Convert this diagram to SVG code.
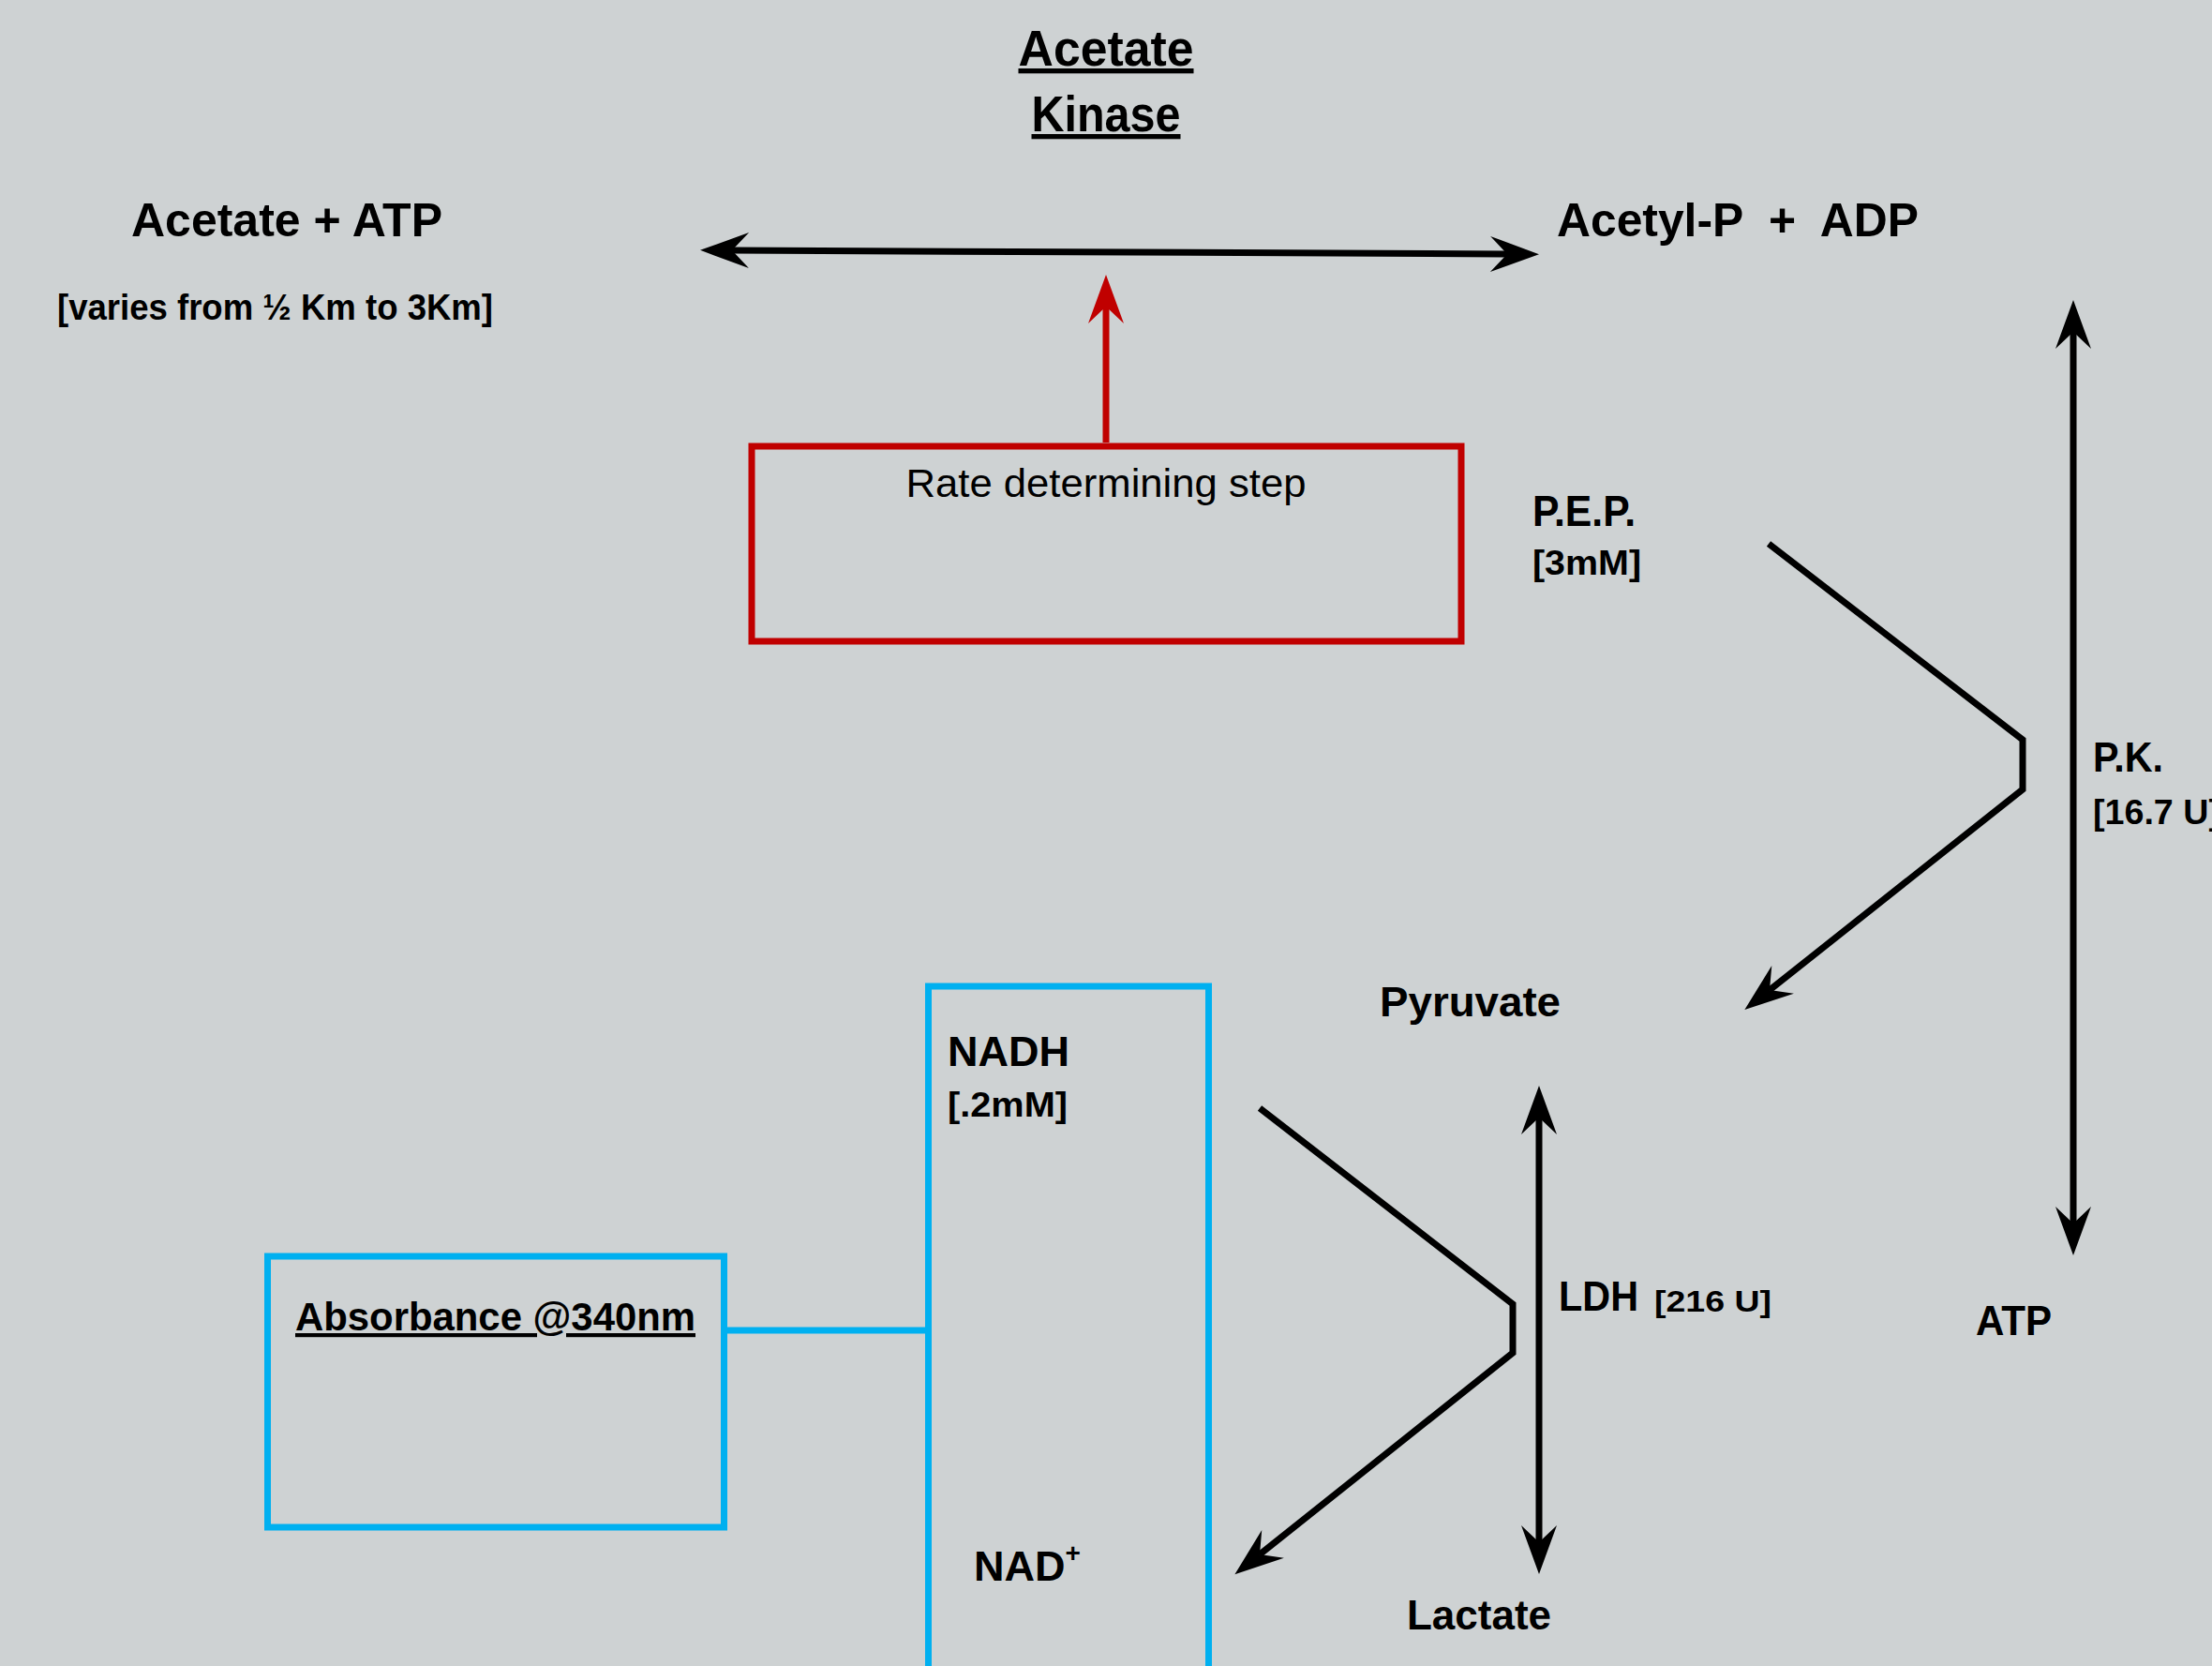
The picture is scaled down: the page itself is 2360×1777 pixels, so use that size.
<svg xmlns="http://www.w3.org/2000/svg" width="2360" height="1777" viewBox="0 0 2360 1777">
<style>
text{font-family:"Liberation Sans",Arial,sans-serif;fill:#000;}
.b{font-weight:bold;}
.u{text-decoration:underline;text-decoration-skip-ink:none;}
.ln{fill:none;stroke:#000;stroke-width:7;}
.red{fill:none;stroke:#C00000;stroke-width:7;}
.blue{fill:none;stroke:#00B0F0;stroke-width:7;}
</style>
<defs>
<marker id="ah" viewBox="-20 -20 56 40" markerWidth="56" markerHeight="40" refX="0" refY="0" orient="auto-start-reverse" markerUnits="userSpaceOnUse"><path d="M34,0 L-18,-19 L0,0 L-18,19 Z" fill="#000"/></marker>
<marker id="ahr" viewBox="-20 -20 56 40" markerWidth="56" markerHeight="40" refX="0" refY="0" orient="auto" markerUnits="userSpaceOnUse"><path d="M34,0 L-18,-19 L0,0 L-18,19 Z" fill="#C00000"/></marker>
</defs>
<rect x="0" y="0" width="2360" height="1777" fill="#CED2D3"/>

<g id="connectors">
<path class="ln" d="M781,267 L1608,271" marker-start="url(#ah)" marker-end="url(#ah)"/>
<path class="red" d="M1180,472 L1180,327" marker-end="url(#ahr)"/>
<path class="ln" d="M2212,354 L2212,1305" marker-start="url(#ah)" marker-end="url(#ah)"/>
<path class="ln" d="M1642,1192 L1642,1645" marker-start="url(#ah)" marker-end="url(#ah)"/>
<path class="ln" d="M1887,580 L2158,789 L2158,842 L1888,1056" marker-end="url(#ah)"/>
<path class="ln" d="M1344,1182 L1614,1391 L1614,1443 L1344,1658" marker-end="url(#ah)"/>
<path class="blue" d="M772,1419 L990,1419"/>
</g>

<g id="title">
<text class="b u" x="1180" y="70" font-size="53" text-anchor="middle" textLength="187" lengthAdjust="spacingAndGlyphs">Acetate</text>
<text class="b u" x="1180" y="140" font-size="53" text-anchor="middle" textLength="159" lengthAdjust="spacingAndGlyphs">Kinase</text>
</g>

<g id="acetate-atp">
<text class="b" x="140" y="252" font-size="50" textLength="332" lengthAdjust="spacingAndGlyphs">Acetate + ATP</text>
<text class="b" x="61" y="341" font-size="38" textLength="465" lengthAdjust="spacingAndGlyphs">[varies from ½ Km to 3Km]</text>
</g>

<g id="acetylp-adp">
<text class="b" x="1661" y="252" font-size="50" xml:space="preserve" textLength="386" lengthAdjust="spacingAndGlyphs">Acetyl-P  +  ADP</text>
</g>

<g id="rate-step">
<rect class="red" x="802" y="476" width="757" height="208"/>
<text x="1180" y="530" font-size="42" text-anchor="middle" textLength="427" lengthAdjust="spacingAndGlyphs">Rate determining step</text>
</g>

<g id="pep">
<text class="b" x="1635" y="561" font-size="46" textLength="110" lengthAdjust="spacingAndGlyphs">P.E.P.</text>
<text class="b" x="1635" y="613" font-size="36" textLength="116" lengthAdjust="spacingAndGlyphs">[3mM]</text>
</g>

<g id="pk">
<text class="b" x="2233" y="823" font-size="44" textLength="75" lengthAdjust="spacingAndGlyphs">P.K.</text>
<text class="b" x="2233" y="879" font-size="37" textLength="136" lengthAdjust="spacingAndGlyphs">[16.7 U]</text>
</g>

<g id="pyruvate">
<text class="b" x="1472" y="1084" font-size="45" textLength="193" lengthAdjust="spacingAndGlyphs">Pyruvate</text>
</g>

<g id="ldh">
<text class="b" x="1663" y="1398" font-size="44" textLength="85" lengthAdjust="spacingAndGlyphs">LDH</text>
<text class="b" x="1765" y="1399" font-size="32" textLength="125" lengthAdjust="spacingAndGlyphs">[216 U]</text>
</g>

<g id="atp">
<text class="b" x="2108" y="1424" font-size="44" textLength="81" lengthAdjust="spacingAndGlyphs">ATP</text>
</g>

<g id="lactate">
<text class="b" x="1501" y="1738" font-size="45" textLength="154" lengthAdjust="spacingAndGlyphs">Lactate</text>
</g>

<g id="nadh-box">
<rect class="blue" x="990.5" y="1052" width="299" height="760"/>
<text class="b" x="1011" y="1137" font-size="45" textLength="130" lengthAdjust="spacingAndGlyphs">NADH</text>
<text class="b" x="1011" y="1191" font-size="36" textLength="128" lengthAdjust="spacingAndGlyphs">[.2mM]</text>
<text class="b" x="1039" y="1686" font-size="45">NAD<tspan font-size="28" dy="-20">+</tspan></text>
</g>

<g id="absorbance">
<rect class="blue" x="285.5" y="1340" width="487" height="289"/>
<text class="b u" x="315" y="1419" font-size="42" textLength="427" lengthAdjust="spacingAndGlyphs">Absorbance @340nm</text>
</g>
</svg>
